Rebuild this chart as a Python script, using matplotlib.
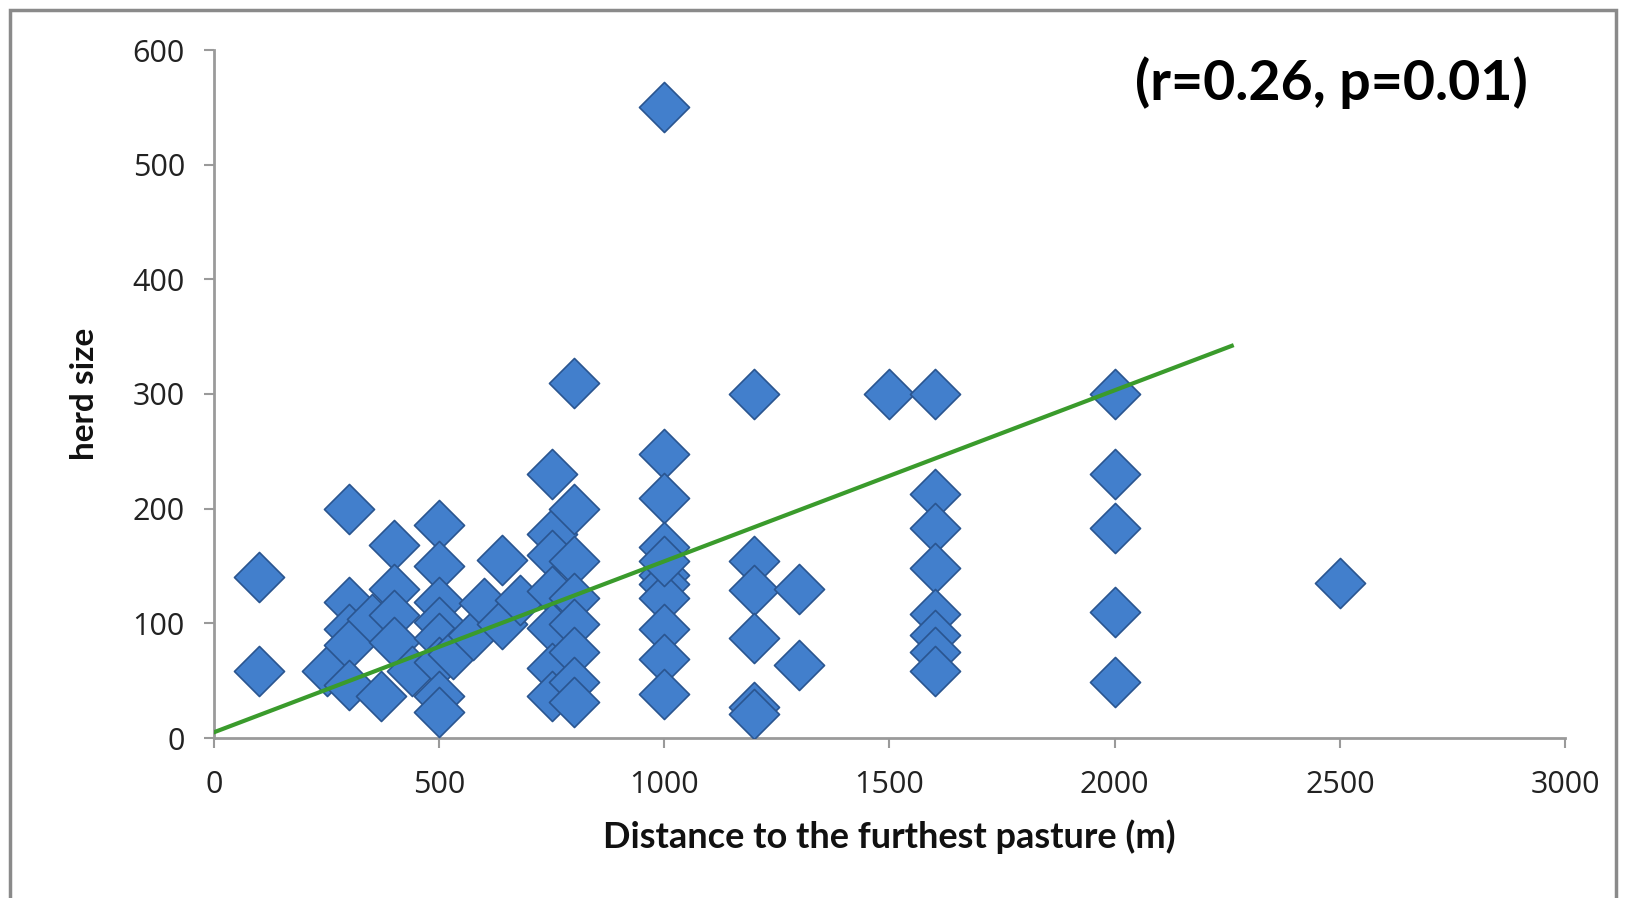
import numpy as np
import matplotlib
matplotlib.use("Agg")
import matplotlib.pyplot as plt
from matplotlib.patches import Rectangle

# distance to the furthest pasture (m) and herd size
distance = [100, 100, 250,
            300, 300, 300, 300, 300, 350, 370,
            400, 400, 400, 400, 440,
            500, 500, 500, 500, 500, 500, 500, 500,
            530, 575, 600, 640, 640, 680,
            750, 750, 750, 750, 750, 750, 750,
            800, 800, 800, 800, 800, 800, 800, 800,
            1000, 1000, 1000, 1000, 1000, 1000, 1000, 1000, 1000, 1000, 1000,
            1200, 1200, 1200, 1200, 1200, 1200,
            1300, 1300, 1500,
            1600, 1600, 1600, 1600, 1600, 1600, 1600, 1600,
            2000, 2000, 2000, 2000, 2000,
            2500]
herd = [140, 58, 58,
        200, 119, 95, 81, 46, 104, 37,
        168, 130, 107, 84, 58,
        186, 150, 119, 101, 87, 66, 37, 23,
        73, 90, 118, 155, 99, 120,
        230, 178, 160, 128, 96, 61, 37,
        310, 200, 154, 122, 99, 75, 49, 31,
        550, 248, 209, 167, 142, 134, 122, 95, 69, 38, 154,
        300, 154, 129, 87, 27, 21,
        130, 64, 300,
        300, 213, 183, 148, 108, 90, 75, 58,
        300, 230, 183, 110, 49,
        135]

# linear trend line end points
trend_x = [0, 2260]
trend_y = [5, 342]

x_ticks = [0, 500, 1000, 1500, 2000, 2500, 3000]
y_ticks = [0, 100, 200, 300, 400, 500, 600]

plt.rcParams['font.family'] = ['Lato', 'DejaVu Sans']

fig = plt.figure(figsize=(16.31, 8.98), dpi=100)
ax = fig.add_axes([214 / 1631, 1 - 738 / 898, (1565 - 214) / 1631, (738 - 50) / 898])

# outer frame like the exported chart area
fig.patches.append(Rectangle((10 / 1631, -0.02), 1606 / 1631, 1 - 10 / 898 + 0.02,
                             transform=fig.transFigure, fill=False,
                             edgecolor='#8a8a8a', linewidth=2.5))

ax.scatter(distance, herd, marker='D', s=650, color='#427fcc',
           edgecolors='#2a5590', linewidths=1.2, zorder=3)
ax.plot(trend_x, trend_y, color='#3a9b2c', linewidth=3, zorder=4)

ax.set_xlim(0, 3000)
ax.set_ylim(0, 600)
ax.set_xticks(x_ticks)
ax.set_yticks(y_ticks)
ax.tick_params(axis='both', labelsize=22, colors='#9a9a9a', labelcolor='#222222',
               length=7, width=1.5)
ax.tick_params(axis='x', pad=16)
ax.tick_params(axis='y', pad=14)
for lbl in ax.get_xticklabels() + ax.get_yticklabels():
    lbl.set_family(['Open Sans', 'DejaVu Sans'])

for side in ['top', 'right']:
    ax.spines[side].set_visible(False)
for side in ['left', 'bottom']:
    ax.spines[side].set_color('#9a9a9a')
    ax.spines[side].set_linewidth(2)

ax.set_xlabel('Distance to the furthest pasture (m)', fontsize=26,
              fontweight='bold', labelpad=14, color='#111111')
ax.set_ylabel('herd size', fontsize=24, fontweight='bold', labelpad=24,
              color='#111111')

ax.text(0.827, 0.952, '(r=0.26, p=0.01)', transform=ax.transAxes, fontsize=40,
        fontweight='bold', ha='center', va='center', color='black')

fig.savefig('out.png', dpi=100, facecolor='white')
